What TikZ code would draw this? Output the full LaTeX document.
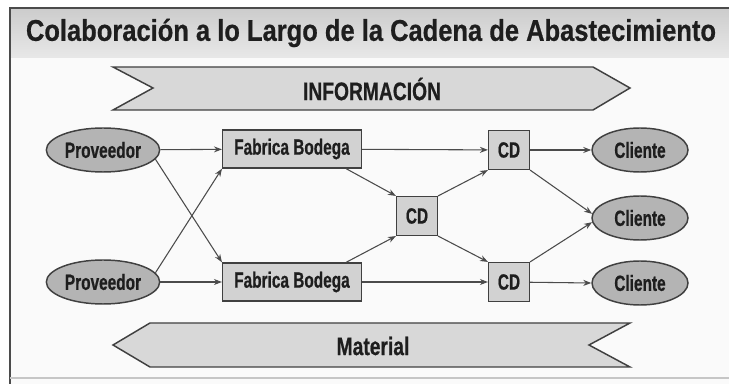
\documentclass[tikz,border=0pt]{standalone}
\usepackage{fontspec}
\setmainfont{Liberation Sans}
\newfontfamily\titlefont{Liberation Sans}[FakeStretch=0.85,FakeBold=0.6]
\newfontfamily\bandfont{Liberation Sans}[FakeStretch=0.76,FakeBold=0.6]
\newfontfamily\nodefont{Liberation Sans}[FakeStretch=0.7,FakeBold=0.6]
\usetikzlibrary{shapes.geometric,arrows.meta}
\definecolor{ink}{HTML}{1E1E1E}
\definecolor{ovalgray}{HTML}{B4B4B4}
\definecolor{boxgray}{HTML}{D2D2D2}
\definecolor{bandgray}{HTML}{D8D8D8}
\tikzset{
  lbl/.style={text=ink,font=\nodefont\bfseries\fontsize{16.5}{16.5}\selectfont},
  bandlbl/.style={text=ink,font=\bandfont\bfseries\fontsize{19}{19}\selectfont},
  oval/.style={lbl,ellipse,draw=ink!85,line width=1.1pt,fill=ovalgray,inner sep=0pt,minimum height=33pt},
  prov/.style={oval,minimum width=85pt},
  cli/.style={oval,minimum width=72pt},
  fbox/.style={lbl,rectangle,draw=ink!85,line width=1.1pt,fill=boxgray,inner sep=0pt,minimum width=104pt,minimum height=28.5pt},
  cdbox/.style={fbox,minimum width=30.5pt,minimum height=29pt},
  band/.style={draw=ink!85,line width=1.1pt,fill=bandgray,line join=miter},
  flow/.style={draw=ink!80,line width=0.8pt,-{Stealth[length=6pt,width=4.5pt]}}
}
\begin{document}
\begin{tikzpicture}[x=0.75pt,y=-0.75pt]
\useasboundingbox (0,0) rectangle (729,384);
\fill[white!96!gray] (10,8) rectangle (729,384);
\shade[top color=gray!40,bottom color=gray!18] (10,8) rectangle (729,58);
\draw[ink!80,line width=1.6pt] (729,8)--(10,8)--(10,384);
\draw[gray!45,line width=0.8pt] (10,378)--(729,378);
\node[text=ink,font=\titlefont\bfseries\fontsize{22.5}{22.5}\selectfont] (title) at (371,33) {Colaboración a lo Largo de la Cadena de Abastecimiento};
\draw[band] (113,67)--(593,67)--(630,88)--(593,110)--(113,110)--(153,88)--cycle;
\node[bandlbl] (info) at (372,89) {INFORMACIÓN};
\draw[band] (150,323)--(630,323)--(589,345)--(630,367)--(150,367)--(113,345)--cycle;
\node[bandlbl] (mat) at (373,346) {Material};
\node[prov] (p1) at (103,150) {Proveedor};
\node[prov] (p2) at (103,282) {Proveedor};
\node[fbox] (fb1) at (292,149) {Fabrica Bodega};
\node[fbox] (fb2) at (292,282) {Fabrica Bodega};
\node[cdbox] (cdm) at (417,216) {CD};
\node[cdbox] (cdt) at (509,150) {CD};
\node[cdbox] (cdb) at (509,282) {CD};
\node[cli] (c1) at (640,150) {Cliente};
\node[cli] (c2) at (640,218) {Cliente};
\node[cli] (c3) at (640,283) {Cliente};
\draw[flow] (p1) -- (fb1);
\draw[flow] (p1.-10) -- (fb2.north west);
\draw[flow] (p2.10) -- (fb1.south west);
\draw[flow] (p2) -- (fb2);
\draw[flow] (fb1) -- (cdt);
\draw[flow] (fb1.-20) -- (cdm.north west);
\draw[flow] (fb2.20) -- (cdm.south west);
\draw[flow] (fb2) -- (cdb);
\draw[flow] (cdm.north east) -- (cdt.south west);
\draw[flow] (cdm.south east) -- (cdb.north west);
\draw[flow] (cdt) -- (c1);
\draw[flow] (cdt.south east) -- (c2.175);
\draw[flow] (cdb.north east) -- (c2.185);
\draw[flow] (cdb) -- (c3.west);
\end{tikzpicture}
\end{document}
